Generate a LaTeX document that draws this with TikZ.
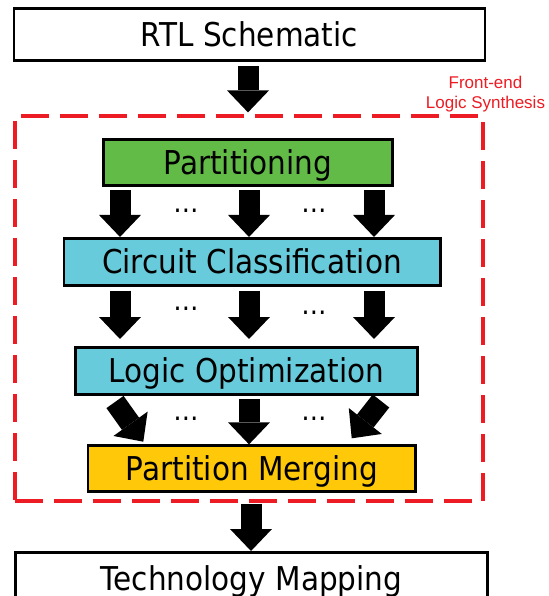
\documentclass[tikz,border=0pt]{standalone}
\usepackage{fontspec}
\setmainfont{DejaVu Sans}[FakeStretch=0.9]
\newfontfamily\labelfont{Liberation Sans}
\usetikzlibrary{arrows.meta}
\definecolor{partgreen}{RGB}{98,187,70}
\definecolor{stepcyan}{RGB}{104,203,219}
\definecolor{mergeyellow}{RGB}{255,201,10}
\definecolor{framered}{RGB}{237,28,36}
\begin{document}
\begin{tikzpicture}[x=1pt,y=-1pt,
  box/.style={draw=black,line width=2.8pt,inner sep=0pt,text height=23.9pt,text depth=0pt,font=\fontsize{32.8}{34}\selectfont},
  bigarrow/.style={draw=black,line width=21pt,-{Triangle[length=22pt,width=42pt,line width=0pt]}},
  dotsnode/.style={inner sep=0pt,font=\fontsize{28}{30}\selectfont},
  framebox/.style={draw=framered,line width=3.2pt,dash pattern=on 28pt off 11pt,inner sep=0pt},
  felabelstyle/.style={text=framered,font=\labelfont\fontsize{17}{20}\selectfont,align=center,inner sep=0pt}]
\useasboundingbox (0,0) rectangle (548,596);
\fill[white] (0,0) rectangle (548,596);

% frame
\node[framebox,minimum width=468pt,minimum height=385pt] (frame) at (249,308.5) {};
\node[felabelstyle] (felabel) at (485.5,94) {Front-end\\Logic Synthesis};

% boxes
\node[box,minimum width=471pt,minimum height=52pt] (rtl) at (249.4,34.5) {RTL Schematic};
\node[box,fill=partgreen,minimum width=289.5pt,minimum height=46.2pt] (part) at (247.9,162.5) {Partitioning};
\node[box,fill=stepcyan,minimum width=376.2pt,minimum height=46.9pt] (cc) at (252,261.8) {Circuit Classification};
\node[box,fill=stepcyan,minimum width=341.6pt,minimum height=47.2pt] (lo) at (246.5,371) {Logic Optimization};
\node[box,fill=mergeyellow,minimum width=327.5pt,minimum height=45.9pt] (pm) at (251.8,468.7) {Partition Merging};
\node[box,minimum width=472.2pt,minimum height=53.2pt] (tm) at (251.5,579) {Technology Mapping};

% arrow columns
\coordinate (c1) at (120,0);
\coordinate (c2) at (249,0);
\coordinate (c3) at (374,0);
\coordinate (ct) at (248,0);
\coordinate (c4) at (251,0);
\coordinate (l3a) at (115,402);
\coordinate (l3b) at (143.3,441.7);
\coordinate (r3a) at (381,401);
\coordinate (r3b) at (351.7,438.3);

\draw[bigarrow,shorten <=4.5pt,shorten >=2pt] (ct |- rtl.south) -- (ct |- frame.north);

\foreach \c in {c1,c2,c3}{
  \draw[bigarrow,shorten <=3pt] (\c |- part.south) -- (\c |- cc.north);
  \draw[bigarrow,shorten <=4pt,shorten >=7pt] (\c |- cc.south) -- (\c |- lo.north);
}
\draw[bigarrow] (l3a) -- (l3b);
\draw[bigarrow,shorten <=3pt] (c2 |- lo.south) -- (c2 |- pm.north);
\draw[bigarrow] (r3a) -- (r3b);

\draw[bigarrow,shorten <=10.5pt] (c4 |- pm.south) -- (c4 |- tm.north);

% dots
\node[dotsnode] (d1a) at (186,211) {…};
\node[dotsnode] (d1b) at (314,211) {…};
\node[dotsnode] (d2a) at (186,309) {…};
\node[dotsnode] (d2b) at (314,313) {…};
\node[dotsnode] (d3a) at (186,419) {…};
\node[dotsnode] (d3b) at (314,419) {…};
\end{tikzpicture}
\end{document}
